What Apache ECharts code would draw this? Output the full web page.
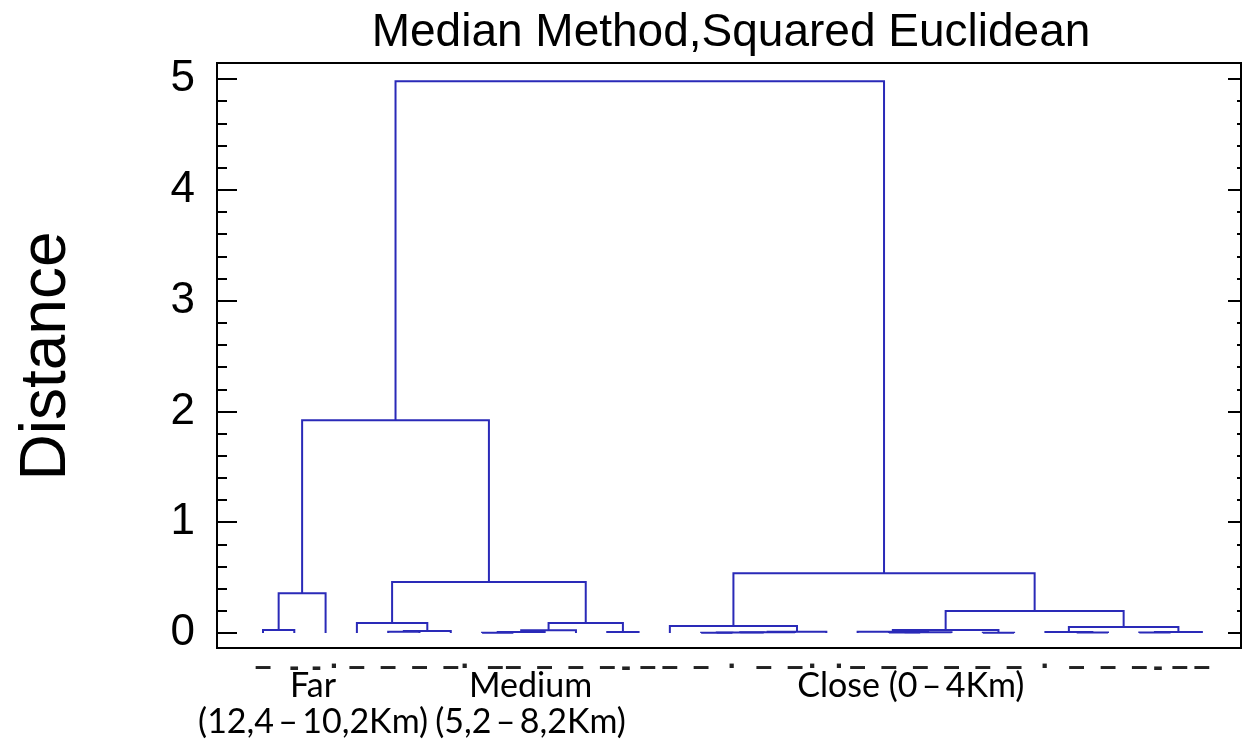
<!DOCTYPE html>
<html><head><meta charset="utf-8">
<script src="https://cdn.jsdelivr.net/npm/echarts@6/dist/echarts.min.js"></script>
<style>html,body{margin:0;padding:0;background:#fff}#c{width:1242px;height:746px}</style>
</head><body><div id="c"></div>
<script>
const chartTitle = 'Median Method,Squared Euclidean';
const yAxisName = 'Distance';
const yTicks = [0, 1, 2, 3, 4, 5];
const leafCount = 31;
const leafMarks = ['–','-','- ·','–','–','–','–','·  –','–','–','–','–','- –','–','–','·','–','–','·  ·','–','–','–','–','–','–','·','–','–','–','- –','–'];
// merges: [childA, childB, height]; ids < leafCount are leaves, ids >= leafCount refer to merge (id - leafCount)
const merges = [
  [0, 1, 0.027],   // 31
  [31, 2, 0.36],   // 32 Far
  [4, 5, 0.012],   // 33
  [33, 6, 0.018],  // 34
  [3, 34, 0.09],   // 35
  [7, 8, 0.003],   // 36
  [36, 9, 0.01],   // 37
  [37, 10, 0.025], // 38
  [11, 12, 0.01],  // 39
  [38, 39, 0.09],  // 40
  [35, 40, 0.46],  // 41 Medium
  [32, 41, 1.92],  // 42
  [14, 15, 0.003], // 43
  [43, 16, 0.005], // 44
  [44, 17, 0.008], // 45
  [45, 18, 0.012], // 46
  [13, 46, 0.063], // 47
  [20, 21, 0.005], // 48
  [48, 22, 0.008], // 49
  [19, 49, 0.011], // 50
  [23, 24, 0.003], // 51
  [50, 51, 0.027], // 52
  [26, 27, 0.005], // 53
  [25, 53, 0.01],  // 54
  [28, 29, 0.005], // 55
  [55, 30, 0.01],  // 56
  [54, 56, 0.055], // 57
  [52, 57, 0.2],   // 58
  [47, 58, 0.54],  // 59 Close
  [42, 59, 4.98]   // 60 root
];
const groupLabels = ['Far\n(12,4\u2009–\u200910,2Km)', 'Medium\n(5,2\u2009–\u20098,2Km)', 'Close (0\u2009–\u20094Km)'];
const groupLabelPos = [1.6, 8.55, 20.7];

const xMin = -1.47, xMax = 31.25;
const yMin = -0.135, yMax = 5.145;

// node positions: leaves at index, clusters at midpoint of children
const nodeX = [], nodeH = [];
for (let i = 0; i < leafCount; i++) { nodeX.push(i); nodeH.push(0); }
const links = merges.map(m => {
  const a = m[0], b = m[1];
  const xa = nodeX[a], xb = nodeX[b];
  const row = [Math.min(xa, xb), Math.max(xa, xb), xa < xb ? nodeH[a] : nodeH[b], xa < xb ? nodeH[b] : nodeH[a], m[2]];
  nodeX.push((xa + xb) / 2); nodeH.push(m[2]);
  return row;
});

const minorTicks = [];
for (let i = 0; i < yTicks.length - 1; i++) {
  for (let k = 1; k < 5; k++) minorTicks.push(+(yTicks[i] + k * (yTicks[i + 1] - yTicks[i]) / 5).toFixed(3));
}
const leafIdx = [];
for (let i = 0; i < leafCount; i++) leafIdx.push(i);

const lineColor = '#2a2ab8';
const chart = echarts.init(document.getElementById('c'), null, {renderer: 'canvas'});
const yBase = {type: 'value', min: yMin, max: yMax, axisLine: {show: false, onZero: false}, splitLine: {show: false}};
chart.setOption({
  animation: false,
  backgroundColor: '#fff',
  grid: {left: 217, right: 1, top: 63, bottom: 98, show: true, borderColor: '#000', borderWidth: 2, backgroundColor: 'transparent'},
  graphic: [
    {type: 'text', x: 731, y: 33, style: {text: chartTitle, font: '46px "Liberation Sans", Arial, sans-serif', fill: '#000', align: 'center', verticalAlign: 'middle'}},
    {type: 'text', x: 47, y: 356, rotation: Math.PI / 2, style: {text: yAxisName, font: '64px "Liberation Sans", Arial, sans-serif', fill: '#000', align: 'center', verticalAlign: 'middle'}}
  ],
  xAxis: {
    type: 'value', min: xMin, max: xMax,
    axisLine: {show: false, onZero: false}, axisTick: {show: false}, splitLine: {show: false},
    axisLabel: {customValues: leafIdx, formatter: v => leafMarks[Math.round(v)] || '', margin: 5,
      fontSize: 30, fontWeight: 'bold', fontFamily: '"Liberation Sans", Arial, sans-serif', color: '#222'}
  },
  yAxis: [
    Object.assign({}, yBase, {position: 'left',
      axisTick: {show: true, inside: true, length: 20, customValues: yTicks, lineStyle: {color: '#000', width: 2}},
      axisLabel: {customValues: yTicks, margin: 22, fontSize: 44, color: '#000', fontFamily: '"Liberation Sans", Arial, sans-serif'}}),
    Object.assign({}, yBase, {position: 'left',
      axisTick: {show: true, inside: true, length: 10, customValues: minorTicks, lineStyle: {color: '#000', width: 2}},
      axisLabel: {show: false}}),
    Object.assign({}, yBase, {position: 'right',
      axisTick: {show: true, inside: true, length: 13, customValues: yTicks, lineStyle: {color: '#000', width: 2}},
      axisLabel: {show: false}}),
    Object.assign({}, yBase, {position: 'right',
      axisTick: {show: true, inside: true, length: 4, customValues: minorTicks, lineStyle: {color: '#000', width: 2}},
      axisLabel: {show: false}})
  ],
  series: [
    {
      type: 'custom', xAxisIndex: 0, yAxisIndex: 0, clip: true,
      encode: {x: [0, 1], y: [2, 3, 4]},
      data: links,
      renderItem: function (params, api) {
        const p1 = api.coord([api.value(0), api.value(2)]);
        const p2 = api.coord([api.value(0), api.value(4)]);
        const p3 = api.coord([api.value(1), api.value(4)]);
        const p4 = api.coord([api.value(1), api.value(3)]);
        return {type: 'polyline', shape: {points: [p1, p2, p3, p4]}, style: {stroke: lineColor, lineWidth: 2, fill: null}};
      }
    },
    {
      type: 'custom', xAxisIndex: 0, yAxisIndex: 0, clip: false,
      data: groupLabelPos.map(v => [v, yMin]),
      renderItem: function (params, api) {
        const p = api.coord([api.value(0), api.value(1)]);
        return {type: 'text', x: p[0], y: p[1] + 20,
          style: {text: groupLabels[params.dataIndex], fontSize: 34, fontFamily: 'Lato, "Open Sans", sans-serif', fontWeight: 'normal',
            fill: '#000', align: 'center', verticalAlign: 'top', lineHeight: 36}};
      }
    }
  ]
});
</script></body></html>
